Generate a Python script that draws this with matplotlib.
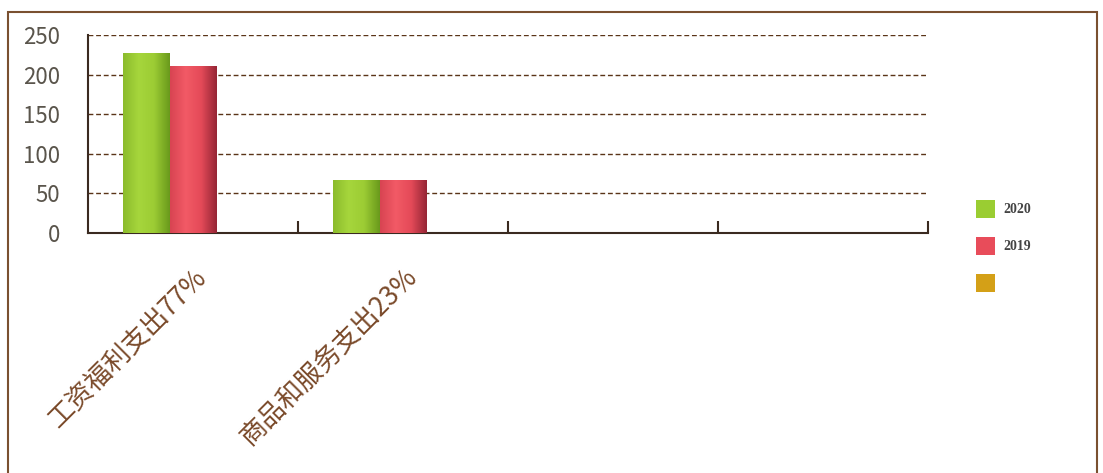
import numpy as np
import matplotlib.pyplot as plt
from matplotlib.colors import LinearSegmentedColormap
from matplotlib.patches import Rectangle

plt.rcParams['font.family'] = ['Noto Sans CJK SC', 'DejaVu Sans']

categories = ['工资福利支出77%', '商品和服务支出23%', '', '']
series_names = ['2020', '2019', '']
values_2020 = [227, 66, 0, 0]
values_2019 = [210, 66, 0, 0]
values_3 = [0, 0, 0, 0]

# gradient colours for each series (left -> mid -> right)
grads = [
    ['#8cbc2c', '#a6d63c', '#9ccc34', '#6a9a1c'],
    ['#d84452', '#f25a66', '#e44a58', '#962636'],
    ['#c99010', '#e6b020', '#d8a018', '#8a6008'],
]
solid = ['#9acd32', '#e84c5a', '#d4a017']

fig = plt.figure(figsize=(11.03, 4.73), dpi=100)
fig.patch.set_facecolor('white')

# outer frame
fig.patches.append(Rectangle((8 / 1103, -0.1), 1089 / 1103, 1.1 - 12 / 473,
                             transform=fig.transFigure, fill=False,
                             edgecolor='#7a5030', linewidth=1.5))

ax = fig.add_axes([88 / 1103, 1 - 233 / 473, 840 / 1103, 198 / 473])

x = np.arange(len(categories))
w = 0.222
offs = [-w, 0, w]
for s, vals in enumerate([values_2020, values_2019, values_3]):
    cmap = LinearSegmentedColormap.from_list('g%d' % s, grads[s])
    grad = np.linspace(0, 1, 64).reshape(1, -1)
    for xi, v in zip(x, vals):
        if v <= 0:
            continue
        x0 = xi + offs[s] - w / 2
        ax.imshow(grad, cmap=cmap, aspect='auto', extent=(x0, x0 + w, 0, v),
                  zorder=3, interpolation='bicubic')

ax.set_xlim(-0.5, 3.5)
ax.set_ylim(0, 250)

ax.set_yticks([0, 50, 100, 150, 200, 250])
ax.yaxis.grid(True, linestyle=(0, (3.5, 2)), color='#5a3418', linewidth=1)
ax.set_axisbelow(True)
ax.tick_params(axis='y', length=0, pad=20, labelsize=16, labelcolor='#5a554c')
for t in ax.get_yticklabels():
    t.set_fontweight('light')

ax.set_xticks([0.5, 1.5, 2.5, 3.5])
ax.set_xticklabels([])
ax.tick_params(axis='x', which='major', direction='in', length=9, color='#3a2a20', width=1.5)
ax.set_xticks(x, minor=True)
ax.set_xticklabels(categories, minor=True, rotation=45, ha='right', va='top',
                   rotation_mode='anchor')
ax.tick_params(axis='x', which='minor', length=0, pad=22, labelsize=19, labelcolor='#7a4a2a')

for sp in ['top', 'right']:
    ax.spines[sp].set_visible(False)
for sp in ['left', 'bottom']:
    ax.spines[sp].set_color('#3a2a20')
    ax.spines[sp].set_linewidth(1.5)

# legend
leg_y = [209, 246, 283]
for i, name in enumerate(series_names):
    yy = 1 - leg_y[i] / 473
    fig.patches.append(Rectangle((976 / 1103, yy - 9 / 473), 19 / 1103, 18 / 473,
                                 transform=fig.transFigure, facecolor=solid[i],
                                 edgecolor='none'))
    fig.text(1003 / 1103, yy, name, ha='left', va='center', fontsize=10,
             fontfamily='Liberation Serif', fontweight='bold', color='#444444')

fig.savefig('out.png', dpi=100)
